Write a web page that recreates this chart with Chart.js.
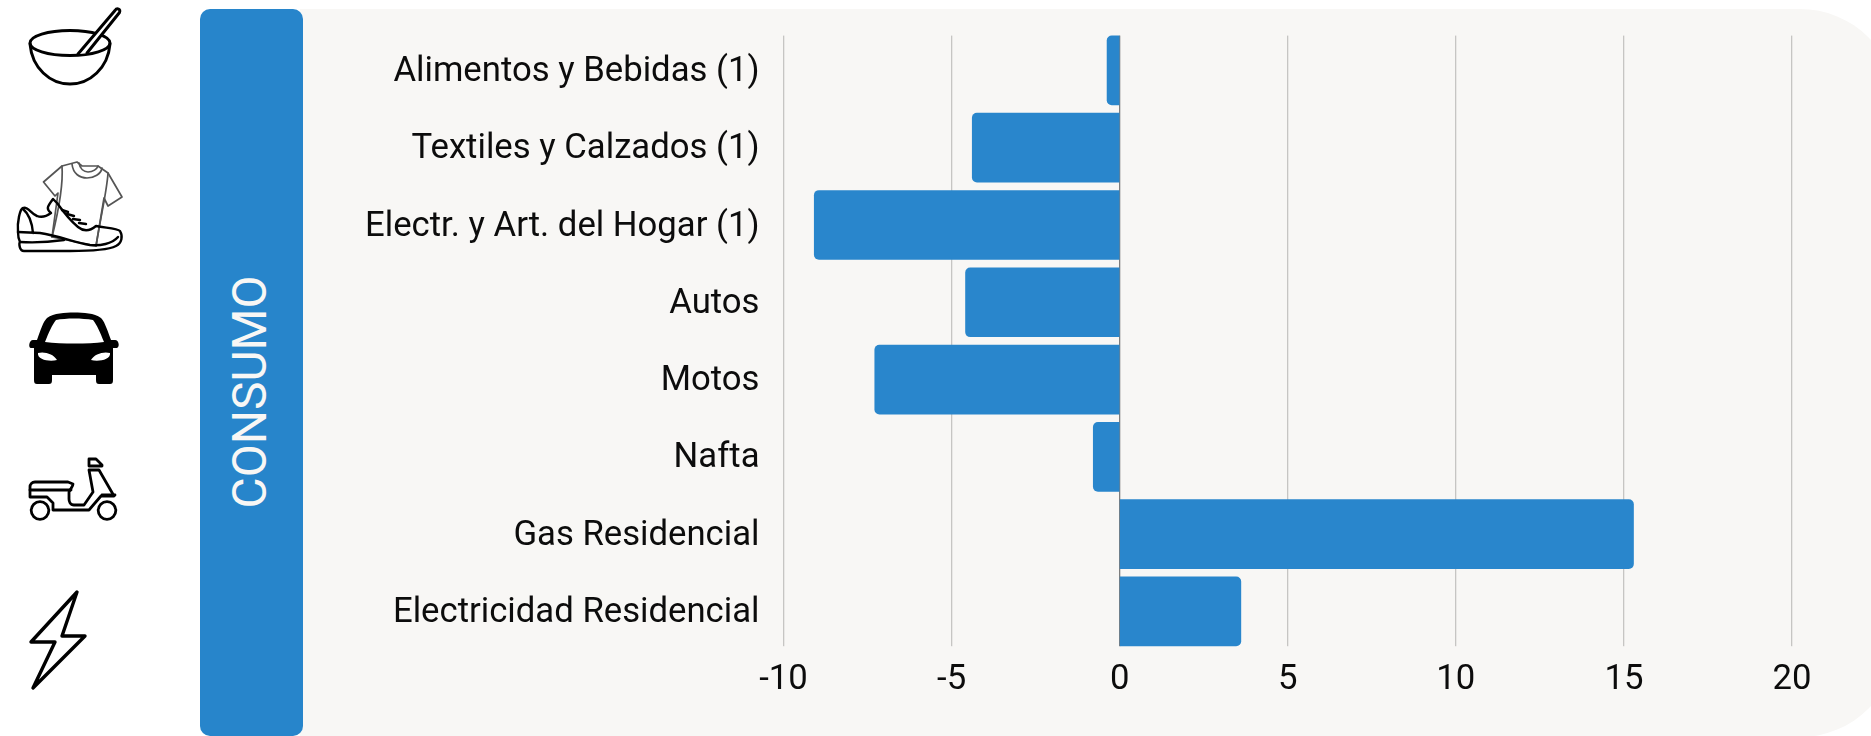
<!DOCTYPE html>
<html><head><meta charset="utf-8">
<style>
html,body{margin:0;padding:0;background:#fff;width:1871px;height:736px;overflow:hidden;position:relative;font-family:Roboto,sans-serif}
#panel{position:absolute;left:300px;top:9px;width:1597px;height:728px;background:#F8F7F5;border-radius:0 97px 97px 0}
#side{position:absolute;left:200px;top:9px;width:103px;height:727px;background:#2785CB;border-radius:10px}
#sideText{position:absolute;left:249px;top:392px;transform:translate(-50%,-50%) rotate(-90deg);color:#F8F7F5;font:400 48px Roboto,sans-serif;white-space:nowrap}
canvas{position:absolute;left:0;top:0}
svg{position:absolute;left:0;top:0}
</style>
</head><body>
<div id="panel"></div><div id="side"></div><div id="sideText">CONSUMO</div>
<svg width="1871" height="736" viewBox="0 0 1871 736" fill="none" stroke="#000" stroke-linejoin="round" stroke-linecap="round">
 <!-- bowl -->
 <g stroke-width="3">
  <ellipse cx="70" cy="43" rx="40" ry="12.5"/>
  <path d="M30 44C32 68 50 84 70 84C90 84 108 68 110 44"/>
  <path d="M78 54L115 10.5C117 7.5 121 9 119.5 12.5L87 53" fill="#fff"/>
 </g>
 <!-- shirt -->
 <g stroke="#555" stroke-width="1.7">
  <path d="M43.5 182L62 166L77 162L82 166L98 166L108 173L122 197L108 206L104 198L96 246L52 237L58 193L55 196Z"/>
  <path d="M72 164C73 174 80 178 87 178C94 178 101 174 102 168M79 163C80 169 84 172 88 172C93 172 97 169 98 166"/>
  <path d="M62 166C63 180 60 205 52 237M108 173C107 190 102 210 96 246"/>
 </g>
 <!-- shoe -->
 <g stroke-width="2.4">
  <path d="M18 232C17 222 20 209 23 208C28 206 31 214 37 216C42 218 47 216 51 213C46 209 47 207 53 199L57 203C62 210 72 222 78 227C84 232 90 231 96 226C106 228 117 228 120 231C123 236 122 243 116 246C108 250 90 251 70 251L24 251C19 251 19 243 20 242C18 238 18 235 18 232Z"/>
  <path d="M18 232L40 233C60 236 75 243 90 245C100 246 112 244 118 237M20 242C35 243 50 242 64 240M23 209C29 214 32 222 33 233"/>
  <path d="M62 210L68 212M67 214L74 216M73 219L80 220M79 223L86 224" stroke-width="2.4"/>
 </g>
 <!-- car -->
 <path stroke="none" fill="#000" fill-rule="evenodd" d="M47 318C54 313 65 312.5 74 312.5C84 312.5 94 313 101 318C104 321 106 326 111 340H115C119 340 120 347 117 348H113V380C113 383 112 384 110 384H99C97 384 96 383 96 380V375H52V380C52 383 51 384 49 384H37C35 384 34 383 34 380V348H31C28 348 29 340 33 340H37C41 329 43 322 47 318ZM56 320C52 325 49 332 45 342C62 344 88 344 104 342C100 332 97 325 93 320C82 318 66 318 56 320ZM38 353C37 360 50 362 57 360C54 354 44 351 38 353ZM110 353C104 351 94 354 91 360C98 362 111 360 110 353Z"/>
 <!-- scooter -->
 <g stroke-width="2.8">
  <circle cx="40" cy="510.5" r="8.8"/><circle cx="107" cy="510.5" r="8.8"/>
  <path d="M30 487V497H47L53 503V510H89L101 496H114L99 470H89L93 492L84 505H74C70 505 69 501 69 499V492C70 489 73 487 73 484L68 482H35C32 482 30 484 30 487Z"/>
  <path d="M30 490H71M102 495H115"/>
  <path d="M89 466V459H96L102 465V466Z"/>
 </g>
 <!-- bolt -->
 <path stroke-width="3.4" d="M77 592L31 642H55L33 688L85 636H62Z"/>
</svg>
<canvas id="c" width="1871" height="736"></canvas>
<script src="https://cdn.jsdelivr.net/npm/chart.js@4"></script>
<script>
const categories=["Alimentos y Bebidas (1)","Textiles y Calzados (1)","Electr. y Art. del Hogar (1)","Autos","Motos","Nafta","Gas Residencial","Electricidad Residencial"];
const seriesValues=[-0.37,-4.38,-9.08,-4.58,-7.28,-0.78,15.28,3.6];
const xTicks=[-10,-5,0,5,10,15,20];
const panelColor="#F8F7F5", barColor="#2986CC";
const trimGrid={id:"trimGrid",beforeDatasetsDraw(ch){const a=ch.chartArea,c=ch.ctx;c.save();c.fillStyle=panelColor;
 c.fillRect(a.left-2,a.top-1,a.width+4,4.8);c.fillRect(a.left-2,a.bottom-3.8,a.width+4,5);c.restore();}};
new Chart(document.getElementById("c"),{type:"bar",
 data:{labels:categories,datasets:[{data:seriesValues,backgroundColor:barColor,borderRadius:5,borderSkipped:"start",inflateAmount:0.5,categoryPercentage:1,barPercentage:0.889}]},
 plugins:[trimGrid],
 options:{indexAxis:"y",responsive:false,animation:false,
  layout:{padding:{left:0,top:31.8,right:79,bottom:0}},
  plugins:{legend:{display:false},tooltip:{enabled:false}},
  scales:{
   x:{min:-10,max:20,afterBuildTicks(s){s.ticks=xTicks.map(v=>({value:v}));},
      afterFit(s){s.height=736-650;s.paddingLeft=0;s.paddingRight=0;},
      border:{display:false},
      grid:{drawTicks:false,lineWidth:1.3,color:c=>c.tick&&c.tick.value===0?"#7d7d7d":"#c6c5c3"},
      ticks:{color:"#0c0c0c",padding:10,maxRotation:0,font:{family:"Roboto",size:34.7}}},
   y:{afterFit(s){s.width=783.5;s.paddingTop=0;s.paddingBottom=0;},
      border:{display:false},grid:{display:false,drawTicks:false},
      ticks:{color:"#0c0c0c",padding:24,labelOffset:2,autoSkip:false,font:{family:"Roboto",size:34.7}}}
  }}});
</script>
</body></html>
